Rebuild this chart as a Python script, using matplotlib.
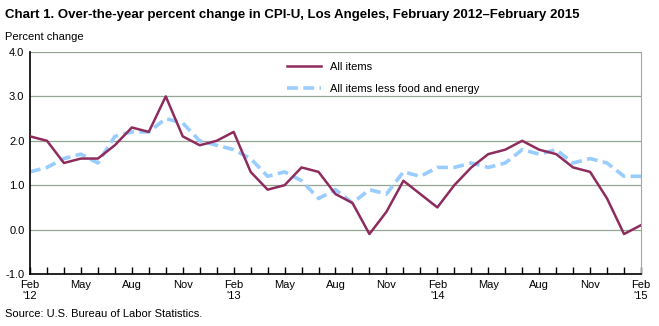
import matplotlib.pyplot as plt

plt.rcParams['font.family'] = ['Liberation Sans', 'DejaVu Sans']

months = list(range(37))  # Feb 2012 .. Feb 2015

all_items = [2.1, 2.0, 1.5, 1.6, 1.6, 1.9, 2.3, 2.2, 3.0, 2.1, 1.9, 2.0,
             2.2, 1.3, 0.9, 1.0, 1.4, 1.3, 0.8, 0.6, -0.1, 0.4, 1.1, 0.8,
             0.5, 1.0, 1.4, 1.7, 1.8, 2.0, 1.8, 1.7, 1.4, 1.3, 0.7, -0.1,
             0.1]
core = [1.3, 1.4, 1.6, 1.7, 1.5, 2.1, 2.2, 2.2, 2.5, 2.4, 2.0, 1.9,
        1.8, 1.6, 1.2, 1.3, 1.1, 0.7, 0.9, 0.6, 0.9, 0.8, 1.3, 1.2,
        1.4, 1.4, 1.5, 1.4, 1.5, 1.8, 1.7, 1.8, 1.5, 1.6, 1.5, 1.2,
        1.2]

tick_pos = list(range(0, 37, 3))
tick_labels = ['Feb\n\'12', 'May', 'Aug', 'Nov', 'Feb\n\'13', 'May', 'Aug', 'Nov',
               'Feb\n\'14', 'May', 'Aug', 'Nov', 'Feb\n\'15']

fig = plt.figure(figsize=(6.59, 3.26), dpi=100)
ax = fig.add_axes([0.0455, 0.1595, 0.9272, 0.681])

for v in [0, 1, 2, 3, 4]:
    ax.axhline(v, color='#93a593', lw=0.9, zorder=1)

ax.plot(months, core, color='#99ccff', lw=2.6, ls=(0, (3, 1.5)), label='All items less food and energy', zorder=2)
ax.plot(months, all_items, color='#8e2c5e', lw=1.8, label='All items', zorder=3)

ax.set_xlim(0, 36)
ax.set_ylim(-1, 4)
ax.set_yticks([-1, 0, 1, 2, 3, 4])
ax.set_yticklabels(['-1.0', '0.0', '1.0', '2.0', '3.0', '4.0'])
ax.set_xticks(months, minor=True)
ax.set_xticks(tick_pos)
ax.set_xticklabels(tick_labels)
ax.tick_params(axis='x', which='both', direction='in', length=5, width=1, pad=4, labelsize=8)
ax.tick_params(axis='y', length=0, pad=4, labelsize=8)

ax.spines['top'].set_visible(False)
ax.spines['right'].set_color('#a0a8a0')
ax.spines['right'].set_linestyle((0, (2, 1)))
ax.spines['left'].set_linewidth(1.2)
ax.spines['bottom'].set_linewidth(1.2)

handles, labels = ax.get_legend_handles_labels()
ax.legend(handles[::-1], labels[::-1], loc='upper left', bbox_to_anchor=(0.405, 1.0),
          frameon=False, fontsize=8, handlelength=3, labelspacing=1.05)

fig.text(0.008, 0.955, 'Chart 1. Over-the-year percent change in CPI-U, Los Angeles, February 2012\u2013February 2015',
         fontsize=9.5, fontweight='bold', va='center')
fig.text(0.008, 0.886, 'Percent change', fontsize=8, va='center')
fig.text(0.008, 0.037, 'Source: U.S. Bureau of Labor Statistics.', fontsize=8, va='center')

fig.savefig('out.png', dpi=100)
